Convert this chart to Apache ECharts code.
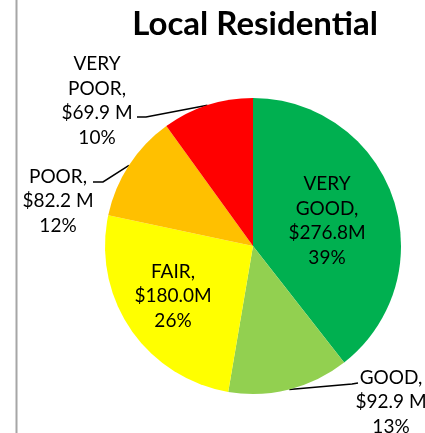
<!DOCTYPE html>
<html>
<head>
<meta charset="utf-8">
<script src="https://cdn.jsdelivr.net/npm/echarts@6/dist/echarts.min.js"></script>
<style>
  html, body { margin: 0; padding: 0; background: #fff; }
  #chart { width: 425px; height: 433px; }
</style>
</head>
<body>
<div id="chart"></div>
<script>
// slice data, clockwise from 12 o'clock
var categories = ['VERY GOOD', 'GOOD', 'FAIR', 'POOR', 'VERY POOR'];
var values = [276.8, 92.9, 180.0, 82.2, 69.9];
var colors = ['#00B050', '#92D050', '#FFFF00', '#FFC000', '#FF0000'];
var insideLabels = ['VERY GOOD', 'FAIR'];

// where each label block sits (label centre, px)
var labelSpots = {
  'VERY GOOD': [327, 221],
  'GOOD': [391, 402],
  'FAIR': [173, 296],
  'POOR': [58, 201],
  'VERY POOR': [97, 101]
};
// leader line end (at the text) and the short elbow before it
var leaderEnds = {
  'GOOD': [[352, 384], [358, 383]],
  'POOR': [[103, 182], [93, 182]],
  'VERY POOR': [[146, 117], [137, 117]]
};

var chart = echarts.init(document.getElementById('chart'));

var pieData = categories.map(function (name, i) {
  var inside = insideLabels.indexOf(name) >= 0;
  return {
    name: name,
    value: values[i],
    itemStyle: { color: colors[i] },
    label: { position: inside ? 'inside' : 'outside' },
    labelLine: { show: !inside }
  };
});

chart.setOption({
  animation: false,
  title: {
    text: 'Local Residential',
    left: 250,
    top: 3,
    textAlign: 'center',
    textStyle: { fontFamily: 'Lato', fontWeight: 'bold', fontSize: 33, color: '#000' }
  },
  graphic: [{
    type: 'line',
    shape: { x1: 16.5, y1: 0, x2: 16.5, y2: 433 },
    style: { stroke: '#a6a6a6', lineWidth: 2 }
  }],
  series: [{
    type: 'pie',
    center: [253, 246],
    radius: 148,
    startAngle: 90,
    clockwise: true,
    data: pieData,
    itemStyle: { borderWidth: 0 },
    emphasis: { disabled: true },
    label: {
      fontFamily: 'Lato',
      fontSize: 19,
      lineHeight: 24.5,
      color: '#000',
      align: 'center',
      formatter: function (p) {
        var inside = insideLabels.indexOf(p.name) >= 0;
        return p.name.replace(' ', '\n') + ',\n$' + p.value.toFixed(1) +
          (inside ? 'M' : ' M') + '\n' + Math.round(p.percent) + '%';
      }
    },
    labelLine: {
      length: 10,
      length2: 10,
      lineStyle: { color: '#000', width: 1.5 }
    },
    labelLayout: function (params) {
      var name = categories[params.dataIndex];
      var spot = labelSpots[name];
      var out = {
        x: spot[0],
        y: spot[1],
        align: 'center',
        verticalAlign: 'middle'
      };
      var ends = leaderEnds[name];
      if (ends && params.labelLinePoints) {
        out.labelLinePoints = [params.labelLinePoints[0], ends[0], ends[1]];
      }
      return out;
    }
  }]
});
</script>
</body>
</html>
